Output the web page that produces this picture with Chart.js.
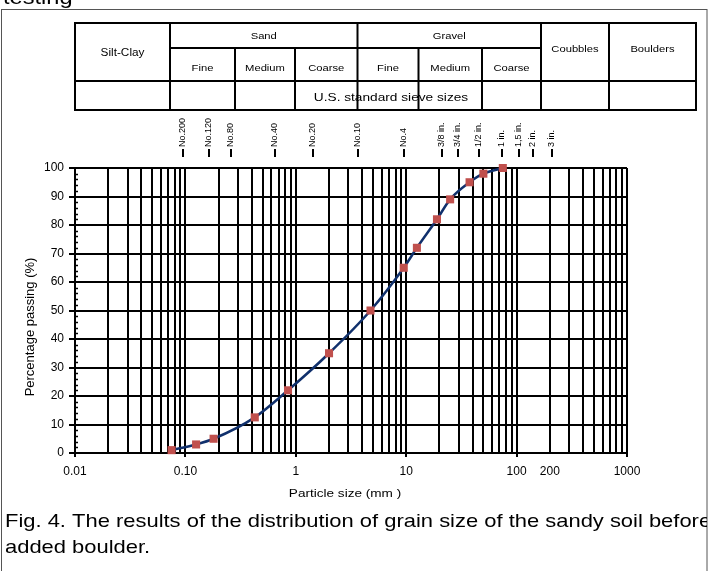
<!DOCTYPE html>
<html>
<head>
<meta charset="utf-8">
<script src="https://cdn.jsdelivr.net/npm/chart.js@4.4.1/dist/chart.umd.min.js"></script>
<style>
  html, body { margin: 0; padding: 0; background: #fff; }
  canvas { display: block; }
</style>
</head>
<body>
<canvas id="c" width="709" height="571"></canvas>
<script>
// Grain-size distribution: sieve opening (mm) and cumulative percentage passing
const particleSizes = [0.075, 0.125, 0.18, 0.425, 0.85, 2.0, 4.75, 9.5, 12.5, 19, 25, 37.5, 50, 75];
const percentPassing = [1, 3, 5, 12.5, 22, 35, 50, 65, 72, 82, 89, 95, 98, 100];

// Labelled ticks of the logarithmic particle-size axis
const xTickValues = [0.01, 0.1, 1, 10, 100, 200, 1000];
const xTickLabels = ['0.01', '0.10', '1', '10', '100', '200', '1000'];

// US standard sieve designations above the plot and their place on the size axis (mm)
const sieveNames = ['No.200', 'No.120', 'No.80', 'No.40', 'No.20', 'No.10', 'No.4',
                    '3/8 in.', '3/4 in.', '1/2 in.', '1 in.', '1,5 in.', '2 in.', '3 in.'];
const sievePositions = [0.096, 0.164, 0.261, 0.652, 1.42, 3.66, 9.59, 21.0, 29.6, 45.8, 73.5, 106, 142, 211];

// Soil classification header
const classGroups = ['Silt-Clay', 'Sand', 'Gravel', 'Coubbles', 'Boulders'];
const subClasses = ['Fine', 'Medium', 'Coarse'];
const sieveRowLabel = 'U.S. standard sieve sizes';

const captionLines = [
  'Fig. 4. The results of the distribution of grain size of the sandy soil before',
  'added boulder.'
];

const FONT = '"Liberation Sans", Arial, Helvetica, sans-serif';
const SX = 1.18; // horizontal widening of the lettering

// every 1..9 x 10^k line between 0.01 and 1000
const logGridValues = [];
for (let k = -2; k <= 2; k++) {
  for (let m = 1; m <= 9; m++) logGridValues.push(Number((m * Math.pow(10, k)).toPrecision(3)));
}
logGridValues.push(1000);

const isDecade = v => Math.abs(Math.log10(v) - Math.round(Math.log10(v))) < 1e-9;

function wideText(ctx, text, x, y, size, align, baseline) {
  ctx.save();
  ctx.translate(x, y);
  ctx.scale(SX, 1);
  ctx.font = size + 'px ' + FONT;
  ctx.textAlign = align || 'center';
  ctx.textBaseline = baseline || 'middle';
  ctx.fillStyle = '#000';
  ctx.fillText(text, 0, 0);
  ctx.restore();
}

function line(ctx, x1, y1, x2, y2) {
  ctx.beginPath();
  ctx.moveTo(x1, y1);
  ctx.lineTo(x2, y2);
  ctx.stroke();
}

const decorations = {
  id: 'decorations',
  beforeDraw(chart) {
    const ctx = chart.ctx;
    ctx.save();
    ctx.fillStyle = '#fff';
    ctx.fillRect(0, 0, chart.width, chart.height);
    ctx.restore();
  },
  afterDraw(chart) {
    const ctx = chart.ctx;
    const xs = chart.scales.x, ys = chart.scales.y;
    const area = chart.chartArea;

    // running title text cut by the top of the page
    wideText(ctx, 'testing', 3, 4, 20, 'left', 'alphabetic');

    // outer frame
    ctx.save();
    ctx.strokeStyle = '#555';
    ctx.lineWidth = 1;
    ctx.strokeRect(1.5, 9.5, 705.5, 600);
    ctx.restore();

    // classification table
    const L = 75, R = 696, T = 23, M1 = 48, M2 = 81, B = 110;
    const cSand = 170, cGravel = 357.5, cCob = 541, cBoul = 609;
    const sandSub = [235, 295], gravelSub = [418.5, 482];
    ctx.save();
    ctx.strokeStyle = '#000';
    ctx.lineWidth = 2;
    line(ctx, L, T, R, T);
    line(ctx, cSand, M1, cCob, M1);
    line(ctx, L, M2, R, M2);
    line(ctx, L, B, R, B);
    [L, cSand, cGravel, cCob, cBoul, R].forEach(x => line(ctx, x, T - 1, x, B + 1));
    sandSub.concat(gravelSub).forEach(x => line(ctx, x, M1, x, B));
    ctx.restore();

    wideText(ctx, classGroups[0], (L + cSand) / 2, 53, 10, 'center');
    wideText(ctx, classGroups[1], (cSand + cGravel) / 2, 36, 9.5, 'center');
    wideText(ctx, classGroups[2], (cGravel + cCob) / 2, 36, 9.5, 'center');
    wideText(ctx, classGroups[3], (cCob + cBoul) / 2, 49, 9.5, 'center');
    wideText(ctx, classGroups[4], (cBoul + R) / 2, 49, 9.5, 'center');
    const sandCells = [cSand, sandSub[0], sandSub[1], cGravel];
    const gravelCells = [cGravel, gravelSub[0], gravelSub[1], cCob];
    subClasses.forEach((name, i) => {
      wideText(ctx, name, (sandCells[i] + sandCells[i + 1]) / 2, 68, 9.5, 'center');
      wideText(ctx, name, (gravelCells[i] + gravelCells[i + 1]) / 2, 68, 9.5, 'center');
    });
    wideText(ctx, sieveRowLabel, 391, 98, 11.6, 'center');

    // sieve designations with their marks
    ctx.save();
    ctx.strokeStyle = '#000';
    ctx.lineWidth = 2;
    ctx.fillStyle = '#000';
    ctx.font = '9px ' + FONT;
    sievePositions.forEach((v, i) => {
      const x = Math.round(xs.getPixelForValue(v));
      line(ctx, x, 149, x, 157);
      ctx.save();
      ctx.translate(x, 147);
      ctx.rotate(-Math.PI / 2);
      ctx.textAlign = 'left';
      ctx.textBaseline = 'middle';
      ctx.fillText(sieveNames[i], 0, 0);
      ctx.restore();
    });
    ctx.restore();

    // minor ticks every 2 % along the inside of the left axis
    ctx.save();
    ctx.strokeStyle = '#000';
    ctx.lineWidth = 1.5;
    for (let v = 2; v < 100; v += 2) {
      if (v % 10 === 0) continue;
      const y = Math.round(ys.getPixelForValue(v)) + 0.5;
      line(ctx, area.left, y, area.left + 3, y);
    }
    ctx.restore();

    // axis titles
    wideText(ctx, 'Particle size (mm )', 345, 497, 11.5, 'center', 'alphabetic');
    ctx.save();
    ctx.translate(30, 327);
    ctx.rotate(-Math.PI / 2);
    ctx.font = '13px ' + FONT;
    ctx.textAlign = 'center';
    ctx.textBaseline = 'middle';
    ctx.fillStyle = '#000';
    ctx.fillText('Percentage passing (%)', 0, 0);
    ctx.restore();

    // figure caption, clipped by the frame
    ctx.save();
    ctx.beginPath();
    ctx.rect(0, 480, 707, 91);
    ctx.clip();
    wideText(ctx, captionLines[0], 5, 527, 18.6, 'left', 'alphabetic');
    wideText(ctx, captionLines[1], 5, 553, 18.6, 'left', 'alphabetic');
    ctx.restore();
  }
};

new Chart(document.getElementById('c').getContext('2d'), {
  type: 'line',
  data: {
    datasets: [{
      data: particleSizes.map((x, i) => ({ x: x, y: percentPassing[i] })),
      borderColor: '#10306c',
      borderWidth: 2.5,
      cubicInterpolationMode: 'monotone',
      pointStyle: 'rect',
      pointRadius: 5.7,
      pointHoverRadius: 5.7,
      pointBackgroundColor: '#c0504d',
      pointBorderColor: '#c0504d',
      pointBorderWidth: 0,
      clip: false
    }]
  },
  options: {
    responsive: false,
    animation: false,
    devicePixelRatio: 1,
    events: [],
    layout: { padding: { left: 0, top: 168, right: 82, bottom: 0 } },
    plugins: { legend: { display: false }, tooltip: { enabled: false } },
    scales: {
      x: {
        type: 'logarithmic',
        min: 0.01,
        max: 1000,
        afterBuildTicks: scale => { scale.ticks = logGridValues.map(v => ({ value: v })); },
        afterFit: scale => { scale.height = 118; },
        ticks: {
          autoSkip: false,
          maxRotation: 0,
          minRotation: 0,
          padding: 7,
          color: '#000',
          font: { family: FONT, size: 12 },
          callback: v => {
            const i = xTickValues.findIndex(t => Math.abs(t - v) / t < 1e-6);
            return i < 0 ? '' : xTickLabels[i];
          }
        },
        grid: {
          color: '#000',
          lineWidth: 2,
          tickLength: 4,
          tickColor: c => (c.tick && isDecade(c.tick.value)) ? '#000' : 'rgba(0,0,0,0)'
        },
        border: { color: '#000', width: 2 }
      },
      y: {
        min: 0,
        max: 100,
        afterFit: scale => { scale.width = 75; },
        ticks: {
          stepSize: 10,
          padding: 5,
          color: '#000',
          font: { family: FONT, size: 12 }
        },
        grid: { color: '#000', lineWidth: 2, tickLength: 6 },
        border: { color: '#000', width: 2 }
      }
    }
  },
  plugins: [decorations]
});
</script>
</body>
</html>
